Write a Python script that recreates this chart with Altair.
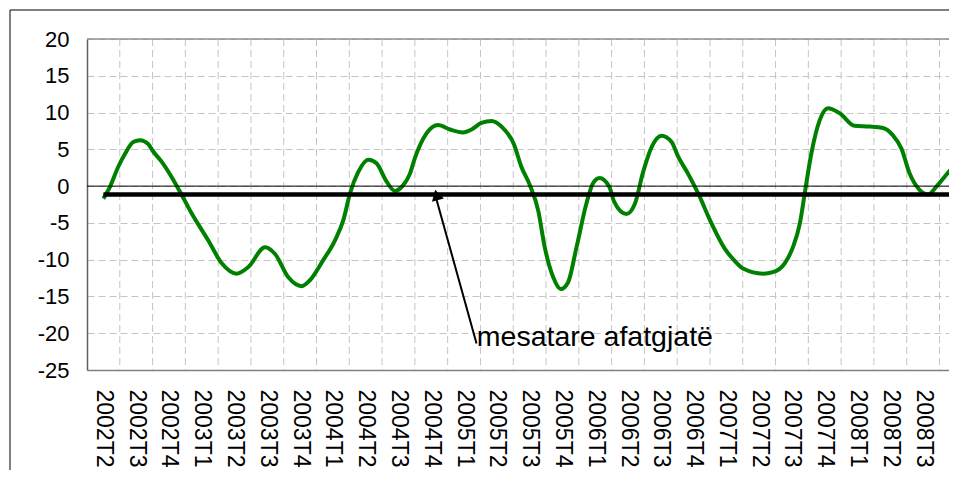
import altair as alt
import pandas as pd

# Category labels (quarters)
quarters = ["2002T2", "2002T3", "2002T4",
            "2003T1", "2003T2", "2003T3", "2003T4",
            "2004T1", "2004T2", "2004T3", "2004T4",
            "2005T1", "2005T2", "2005T3", "2005T4",
            "2006T1", "2006T2", "2006T3", "2006T4",
            "2007T1", "2007T2", "2007T3", "2007T4",
            "2008T1", "2008T2", "2008T3", "2008T4"]

# Series (position in quarter units, 0.5 = centre of 2002T2)
series_pos = [0.50, 0.70, 0.95, 1.16, 1.41, 1.62, 1.87, 2.02, 2.28, 2.58,
              2.84, 3.19, 3.70, 4.11, 4.56, 4.92, 5.43, 5.73, 6.14, 6.55,
              6.80, 7.20, 7.56, 7.82, 8.02, 8.27, 8.58, 8.83, 9.14, 9.39,
              9.64, 9.85, 10.00, 10.36, 10.71, 11.07, 11.47, 11.73, 12.03, 12.34,
              12.64, 13.02, 13.25, 13.51, 13.76, 13.96, 14.22, 14.45, 14.67, 14.93,
              15.23, 15.43, 15.63, 15.93, 16.08, 16.45, 16.71, 16.96, 17.22, 17.52,
              17.83, 18.03, 18.33, 18.64, 19.05, 19.45, 19.72, 20.01, 20.62, 20.92,
              21.28, 21.53, 21.74, 21.89, 22.09, 22.35, 22.60, 22.96, 23.41, 23.87,
              24.28, 24.58, 24.84, 25.09, 25.40, 25.65, 25.90, 26.20, 26.50]
series_val = [-1.7, -0.1, 2.6, 4.4, 6.0, 6.25, 5.7, 4.7, 3.3, 1.25,
              -0.8, -3.7, -7.4, -10.5, -11.9, -11.0, -8.3, -9.2, -12.4, -13.6,
              -12.8, -10.1, -7.4, -4.6, -1.0, 1.9, 3.6, 3.1, 0.6, -0.65,
              0.1, 1.7, 3.8, 7.2, 8.3, 7.7, 7.3, 7.7, 8.6, 8.85,
              8.1, 5.7, 2.6, 0.1, -3.3, -8.3, -12.4, -14.0, -13.1, -8.3,
              -2.4, 0.35, 1.1, -0.1, -2.15, -3.8, -2.4, 1.9, 5.3, 6.85,
              6.0, 4.0, 1.7, -1.0, -5.1, -8.5, -10.0, -11.2, -11.9, -11.7,
              -10.5, -8.3, -5.1, -1.0, 4.4, 9.0, 10.6, 9.9, 8.2, 8.1,
              7.9, 6.9, 5.1, 1.7, -0.55, -1.15, -0.1, 1.5, 3.1]

long_term_avg = -1.15
annotation_text = "mesatare afatgjatë"
y_ticks = [-25, -20, -15, -10, -5, 0, 5, 10, 15, 20]

X_DOMAIN = [0, 26.29]
FONT = "Liberation Sans"

label_positions = [i + 0.5 for i in range(len(quarters))]
boundaries = list(range(1, len(quarters)))
label_expr = "[" + ",".join("'" + q + "'" for q in quarters) + "][round(datum.value - 0.5)]"

xscale = alt.Scale(domain=X_DOMAIN, nice=False, zero=False)
yscale = alt.Scale(domain=[min(y_ticks), max(y_ticks)], nice=False, zero=False)

x_axis = alt.Axis(values=label_positions, labelExpr=label_expr, title=None,
                  labelAngle=90, labelFontSize=23, labelFont=FONT,
                  labelColor="black", labelPadding=19, ticks=False,
                  tickSize=0, grid=False, domainColor="#808080", domainWidth=1.5,
                  labelOverlap=False, labelBound=False, labelFlush=False)
y_axis = alt.Axis(values=y_ticks, labelExpr="'' + datum.value", title=None,
                  labelFontSize=22, labelFont=FONT, labelOverlap=False,
                  labelColor="black", labelPadding=18, ticks=False, tickSize=0,
                  gridColor="#c4c4c4", gridDash=[7, 4], gridWidth=1,
                  domainColor="#606060", domainWidth=1.5)

df_line = pd.DataFrame({"pos": series_pos, "val": series_val})
df_grid = pd.DataFrame({"b": boundaries})
df_avg = pd.DataFrame({"x1": [0.5], "x2": [len(quarters)], "y": [long_term_avg]})
df_zero = pd.DataFrame({"y": [0]})
df_top = pd.DataFrame({"y": [max(y_ticks)]})
df_arrow = pd.DataFrame({"x1": [11.88], "y1": [-21.4], "x2": [10.64], "y2": [-1.5]})
df_head = pd.DataFrame({"x": [10.66], "y": [-1.2]})
df_text = pd.DataFrame({"x": [11.89], "y": [-21.75], "t": [annotation_text]})


def X(field):
    return alt.X(field, scale=xscale, axis=x_axis, title=None)


def Y(field):
    return alt.Y(field, scale=yscale, axis=y_axis, title=None)


frame = alt.Chart(df_zero).mark_rect(fill=None, stroke="black", strokeWidth=1).encode(
    x=alt.value(-77), x2=alt.value(1200), y=alt.value(-29), y2=alt.value(800))

vgrid = alt.Chart(df_grid).mark_rule(color="#c4c4c4", strokeWidth=1, strokeDash=[7, 4],
                                     clip=True).encode(x=X("b:Q"))

top_border = alt.Chart(df_top).mark_rule(color="#909090", strokeWidth=1.5).encode(y=Y("y:Q"))

zero = alt.Chart(df_zero).mark_rule(color="black", strokeWidth=1).encode(y=Y("y:Q"))

avg = alt.Chart(df_avg).mark_rule(color="black", strokeWidth=4.5, clip=True).encode(
    x=X("x1:Q"), x2="x2:Q", y=Y("y:Q"))

line = alt.Chart(df_line).mark_line(color="#008000", strokeWidth=4,
                                    interpolate="monotone", clip=True).encode(
    x=X("pos:Q"), y=Y("val:Q"))

arrow = alt.Chart(df_arrow).mark_rule(color="black", strokeWidth=2).encode(
    x=X("x1:Q"), y=Y("y1:Q"), x2="x2:Q", y2="y2:Q")

head = alt.Chart(df_head).mark_point(shape="triangle-up", filled=True, color="black",
                                     size=150, angle=344.7, opacity=1).encode(
    x=X("x:Q"), y=Y("y:Q"))

text = alt.Chart(df_text).mark_text(align="left", baseline="alphabetic", fontSize=28.5,
                                    font=FONT, color="black").encode(
    x=X("x:Q"), y=Y("y:Q"), text="t:N")

chart = alt.layer(vgrid, top_border, line, zero, avg, arrow, head, text, frame).properties(
    width=862, height=331,
    autosize=alt.AutoSizeParams(type="none"),
    padding={"left": 79, "top": 31, "right": 0, "bottom": 100},
    background="white",
).configure_view(strokeWidth=0)

chart.save("out.html", embed_options={"renderer": "svg", "actions": False})
